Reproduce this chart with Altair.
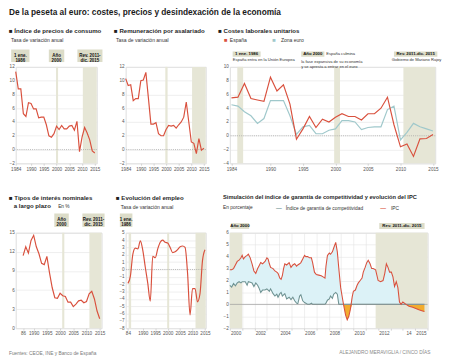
import altair as alt
import pandas as pd

FONT = "Liberation Sans, Arial, sans-serif"
RED = "#d9503d"
TEAL = "#9fc8cb"
IGC_C = "#6f9393"
BAND = "#e6e6d6"
BOX = "#dcdcc8"
GRID = "#e3e3e3"
LBL = "#555555"
BLUEFILL = "#dcf2f7"
ORANGE = "#f2ac2e"

# ---------------- data ----------------
years = list(range(1984, 2016))
ipc_anual = [11.3, 8.8, 8.8, 5.2, 4.8, 6.8, 6.7, 5.9, 5.9, 4.6, 4.7, 4.7, 3.6, 2.0, 1.8, 2.3,
             3.4, 2.9, 3.5, 3.0, 3.0, 3.4, 3.5, 2.8, 4.1, -0.3, 1.8, 3.2, 2.4, 1.4, -0.2, -0.5]
remuneracion = [10.3, 9.3, 9.4, 7.1, 7.4, 7.4, 10.0, 10.1, 11.2, 7.5, 3.7, 3.7, 3.9, 2.3, 2.0, 2.0,
                2.9, 3.5, 3.4, 3.5, 3.1, 3.6, 4.0, 4.7, 6.9, 4.0, 1.1, 0.9, -0.6, 1.6, -0.1, 0.2]
clu_espana = [5.5, 5.6, 7.6, 5.4, 5.2, 5.0, 8.5, 6.5, 7.4, 4.6, -0.5, 1.0, 2.8, 1.2, 2.4, 2.0,
              2.7, 3.2, 2.8, 2.8, 2.3, 3.2, 3.2, 4.0, 5.6, 1.6, -1.6, -1.2, -3.0, -0.45, -0.4, 0.2]
clu_zona_euro = [4.5, 4.3, 3.5, 2.9, 1.8, 2.5, 5.1, 5.1, 5.1, 2.9, 0.2, 1.3, 1.5, 0.3, 0.3, 0.8,
                 1.0, 2.2, 2.2, 2.0, 0.9, 1.2, 1.3, 1.3, 3.8, 4.3, -0.6, 0.5, 1.8, 1.3, 1.0, 0.7]
years_tipos = list(range(1986, 2016))
tipos_interes = [11.4, 12.8, 11.8, 13.8, 14.6, 12.8, 11.7, 10.2, 10.0, 11.3, 8.7, 6.4, 4.8, 4.7, 5.5,
                 5.1, 5.0, 4.1, 4.1, 3.4, 3.8, 4.3, 4.4, 4.0, 4.2, 5.4, 5.8, 4.6, 2.7, 1.5]
empleo = [-1.9, -0.9, 2.1, 2.9, 2.8, 3.9, 2.6, 0.3, -1.9, -4.3, 1.8, 1.6, 2.8, 3.7, 4.0, 3.7,
          3.6, 3.0, 2.3, 2.4, 2.7, 3.1, 3.2, 3.0, -0.5, -6.2, -2.6, -2.6, -4.4, -3.3, 1.2, 2.7]
meses = [2000.00, 2000.15, 2000.30, 2000.45, 2000.60, 2000.75, 2000.90, 2001.00, 2001.10, 2001.25,
         2001.40, 2001.50, 2001.65, 2001.80, 2001.95, 2002.10, 2002.25, 2002.35, 2002.50, 2002.65,
         2002.85, 2003.00, 2003.10, 2003.20, 2003.30, 2003.50, 2003.65, 2003.80, 2003.90, 2004.05,
         2004.15, 2004.25, 2004.35, 2004.45, 2004.60, 2004.80, 2004.95, 2005.10, 2005.25, 2005.40,
         2005.50, 2005.65, 2005.75, 2005.90, 2006.05, 2006.15, 2006.30, 2006.45, 2006.60, 2006.70,
         2006.85, 2007.00, 2007.20, 2007.40, 2007.55, 2007.70, 2007.78, 2007.90, 2008.05, 2008.15,
         2008.30, 2008.40, 2008.57, 2008.70, 2008.82, 2008.97, 2009.10, 2009.20, 2009.37, 2009.50,
         2009.63, 2009.76, 2009.90, 2010.00, 2010.16, 2010.30, 2010.40, 2010.55, 2010.70, 2010.80,
         2010.95, 2011.08, 2011.20, 2011.35, 2011.48, 2011.60, 2011.80, 2012.00, 2012.20, 2012.40,
         2012.54, 2012.67, 2012.80, 2012.93, 2013.07, 2013.20, 2013.33, 2013.47, 2013.60, 2013.73,
         2013.86, 2014.00, 2014.26, 2014.50, 2014.80, 2015.05, 2015.30, 2015.60, 2015.75]
ipc_mensual = [2.9, 2.9, 3.0, 3.3, 3.6, 3.7, 3.9, 4.1, 3.8, 4.0,
               4.1, 4.2, 3.9, 3.4, 2.8, 2.6, 3.0, 3.2, 3.5, 3.4,
               3.6, 3.9, 3.8, 3.4, 3.1, 3.0, 2.8, 2.7, 2.6, 2.2,
               2.1, 2.4, 3.0, 3.4, 3.3, 3.5, 3.1, 3.3, 3.4, 3.2,
               3.3, 3.4, 3.5, 3.8, 4.1, 4.0, 4.0, 3.9, 3.9, 3.5,
               2.7, 2.5, 2.45, 2.4, 2.3, 2.2, 3.2, 4.1, 4.3, 4.2,
               4.4, 4.7, 5.2, 4.4, 3.0, 1.4, 0.6, 0.0, -0.9, -1.3,
               -1.0, -0.4, 0.6, 1.1, 1.2, 1.6, 1.8, 2.0, 2.2, 2.7,
               3.1, 3.5, 3.7, 3.4, 3.0, 3.0, 2.9, 2.0, 1.9, 2.0,
               2.6, 3.4, 3.1, 2.7, 2.7, 2.3, 1.5, 1.9, 1.4, 0.2,
               0.0, 0.2, 0.0, -0.15, -0.25, -0.35, -0.45, -0.55, -0.6]
igc_mensual = [1.6, 1.45, 1.75, 1.55, 1.8, 1.9, 1.8, 1.9, 1.9, 1.9,
               1.6, 1.9, 1.85, 1.8, 1.5, 1.8, 1.6, 1.4, 1.0, 1.2,
               1.2, 1.3, 1.2, 1.1, 1.3, 0.9, 0.7, 0.85, 0.6, 0.9,
               1.0, 0.7, 0.8, 0.9, 0.45, 0.6, 0.4, 0.6, 0.3, 0.1,
               0.05, 0.7, 0.8, 0.3, 0.15, 0.1, 0.0, 0.0, 0.1, 0.0,
               0.0, 0.0, 0.0, 0.0, 0.0, 0.0, 0.1, 0.35, 0.45, 0.7,
               0.5, 0.85, 1.0, 0.85, 0.0, 0.0, 0.0, 0.0, 0.0, 0.0,
               0.0, 0.0, 0.0, 0.0, 0.0, 0.0, 0.0, 0.0, 0.0, 0.0,
               0.0, 0.0, 0.0, 0.0, 0.0, 0.0, 0.0, 0.0, 0.0, 0.0,
               0.0, 0.0, 0.0, 0.0, 0.0, 0.0, 0.0, 0.0, 0.0, 0.0,
               0.0, 0.0, 0.0, 0.0, 0.0, 0.0, 0.0, 0.0, 0.0]

year_ticks = [1984, 1990, 1995, 2000, 2005, 2010, 2015]
tipos_ticks = [1986, 1990, 1995, 2000, 2005, 2010, 2015]
p6_label_years = [2000, 2002, 2004, 2006, 2008, 2010, 2012, 2014, 2015]


# ---------------- helpers ----------------
def xaxis(values, expr=None, grid=False, offset=0):
    kw = dict(values=values, format="d", labelFontSize=4.8, labelColor=LBL, labelFont=FONT,
              grid=grid, gridColor=GRID, gridWidth=0.6, domain=False, ticks=True, tickSize=2,
              tickColor="#bbbbbb", tickWidth=0.6, labelPadding=1, title=None,
              labelFlush=False, labelOverlap=False)
    if expr:
        kw["labelExpr"] = expr
    if offset:
        kw["labelOffset"] = offset
    return alt.Axis(**kw)


def yaxis(values):
    return alt.Axis(values=values, format="d", labelFontSize=4.8, labelColor=LBL, labelFont=FONT,
                    grid=True, gridColor=GRID, gridWidth=0.6, domain=False, ticks=False,
                    labelPadding=1.5, title=None)


def T(text, x, y, size=5.0, bold=False, color="#333333", align="left", baseline="middle"):
    return alt.Chart(pd.DataFrame({"t": [text]})).mark_text(
        align=align, baseline=baseline, fontSize=size,
        fontWeight="bold" if bold else "normal", color=color, font=FONT,
        lineBreak="\n", lineHeight=size * 1.15).encode(
        x=alt.value(x), y=alt.value(y), text="t:N")


class Panel:
    def __init__(self, xdom, ydom, xax, yax):
        self.xs = alt.Scale(domain=xdom, nice=False, zero=False)
        self.ys = alt.Scale(domain=ydom, nice=False, zero=False)
        self.xax = xax
        self.yax = yax

    def X(self, f):
        return alt.X(f, scale=self.xs, axis=self.xax)

    def Y(self, f):
        return alt.Y(f, scale=self.ys, axis=self.yax)

    def bands(self, b0, b1, h):
        return alt.Chart(pd.DataFrame({"b0": b0, "b1": b1})).mark_rect(color=BAND).encode(
            x=self.X("b0:Q"), x2=alt.X2("b1"), y=alt.value(0), y2=alt.value(h))

    def zero(self, dotted=True, color="#999999"):
        kw = dict(color=color, strokeWidth=0.7)
        if dotted:
            kw["strokeDash"] = [1, 1.2]
        return alt.Chart(pd.DataFrame({"z": [0]})).mark_rule(**kw).encode(y=self.Y("z:Q"))

    def line(self, x, y, color=RED, width=1.2, interp="linear"):
        return alt.Chart(pd.DataFrame({"x": x, "y": y})).mark_line(
            color=color, strokeWidth=width, interpolate=interp).encode(
            x=self.X("x:Q"), y=self.Y("y:Q"))

    def ann(self, yr, label, off0, off1, y0, y1, size=4.6):
        d = pd.DataFrame({"yr": [yr], "t": [label]})
        box = alt.Chart(d).mark_rect(color=BOX, xOffset=off0, x2Offset=off1).encode(
            x=self.X("yr:Q"), x2=alt.X2("yr"), y=alt.value(y0), y2=alt.value(y1))
        lab = alt.Chart(d).mark_text(
            fontSize=size, fontWeight="bold", font=FONT, color="#111111", lineBreak="\n",
            lineHeight=size * 1.15, dx=(off0 + off1) / 2, align="center", baseline="middle").encode(
            x=self.X("yr:Q"), y=alt.value((y0 + y1) / 2), text="t:N")
        return [box, lab]


TS = 6.3  # panel title size

# ---------------- panel 1: IPC ----------------
W1, H1 = 84, 100
P1 = Panel([1984, 2015.75], [-2, 12], xaxis(year_ticks), yaxis(list(range(-2, 13, 2))))
p1 = alt.layer(
    P1.bands([1999.8, 2010.3], [2000.6, 2015.75], H1),
    P1.zero(),
    P1.line(years, ipc_anual),
    *P1.ann(1986, "1 ene.\n1986", -10, 9, -18, -5),
    *P1.ann(2000, "Año\n2000", -8, 8, -18, -5),
    *P1.ann(2011, "Rev. 2011-\ndic. 2015", -7.5, 18.5, -18, -5),
    T("De la peseta al euro: costes, precios y desindexación de la economía", -7, -60.5, 8.6, True,
      "#1a1a1a", baseline="top"),
    T("■ Índice de precios de consumo", -7, -37, TS, True, "#1f1f1f"),
    T("Tasa de variación anual", -5, -28, 5.2),
).properties(width=W1, height=H1)

# ---------------- panel 2: remuneración ----------------
W2, H2 = 83, 100
P2 = Panel([1984, 2015.7], [-2, 12], xaxis(year_ticks), yaxis(list(range(-2, 13, 2))))
p2 = alt.layer(
    P2.bands([1999.7, 2010.3], [2000.6, 2015.7], H2),
    P2.zero(),
    P2.line(years, remuneracion),
    T("■ Remuneración por asalariado", -12, -37, TS, True, "#1f1f1f"),
    T("Tasa de variación anual", -10, -28, 5.2),
).properties(width=W2, height=H2)

# ---------------- panel 3: CLU ----------------
W3, H3 = 213, 100
P3 = Panel([1983.75, 2015.35], [-4, 10], xaxis(year_ticks), yaxis(list(range(-4, 11, 2))))
p3 = alt.layer(
    P3.bands([1984.9, 1999.8, 2010.45], [1985.8, 2000.7, 2015.35], H3),
    P3.zero(),
    P3.line(years, clu_zona_euro, color=TEAL),
    P3.line(years, clu_espana, color=RED),
    *P3.ann(1985, "1 ene. 1986", -5.5, 23.5, -16, -10.5, 4.5),
    T("España entra en la Unión Europea", 3, -7.5, 4.2),
    *P3.ann(2000, "Año 2000", -35.5, -11.5, -16, -10.5, 4.5),
    T("España culmina", 100, -13.5, 4.2),
    T("la fase expansiva de su economía\ny se apresta a entrar en el euro", 74, -5, 4.2),
    *P3.ann(2011, "Rev. 2011-dic. 2015", -13.5, 31.5, -16, -10.5, 4.4),
    T("Gobierno de Mariano Rajoy", 168, -7.5, 4.2),
    T("■ Costes laborales unitarios", -12, -37, TS, True, "#1f1f1f"),
    T("■", -6, -28, 6, False, RED),
    T("España", 0, -28, 5.2),
    T("■", 44, -28, 6, False, TEAL),
    T("Zona euro", 53, -28, 5.2),
).properties(width=W3, height=H3)

# ---------------- panel 4: tipos de interés ----------------
W4, H4 = 89, 99
P4 = Panel([1983.2, 2015.7], [0, 15],
           xaxis(tipos_ticks, expr="datum.value == 1986 ? '86' : datum.label"),
           yaxis([0, 3, 6, 9, 12, 15]))
p4 = alt.layer(
    P4.bands([2000.8, 2011.1], [2001.6, 2015.7], H4),
    P4.line(years_tipos, tipos_interes),
    *P4.ann(2000, "Año\n2000", -6, 9, -20, -6),
    *P4.ann(2011, "Rev. 2011-\ndic. 2015", -7, 16, -20, -6),
    T("■ Tipos de interés nominales", -7, -36, TS, True, "#1f1f1f"),
    T("a largo plazo", -2, -28, TS, True, "#1f1f1f"),
    T("En %", 44, -28, 5),
    T("Fuentes: CEOE, INE y Banco de España", -7, 125, 5, False, "#7a7a7a"),
).properties(width=W4, height=H4)

# ---------------- panel 5: empleo ----------------
W5, H5 = 83, 99
P5 = Panel([1983.1, 2015.3], [-8, 5],
           xaxis(year_ticks, expr="datum.value == 1984 ? '84' : datum.label"),
           yaxis(list(range(-8, 6))))
p5 = alt.layer(
    P5.bands([1984.3, 1999.8, 2011.2], [1985.3, 2000.6, 2015.3], H5),
    P5.zero(),
    P5.line(years, empleo, interp="monotone"),
    *P5.ann(1986, "1 ene.\n1986", -13.5, -0.5, -20, -6),
    T("■ Evolución del empleo", -10, -36, TS, True, "#1f1f1f"),
    T("Tasa de variación anual", -5, -27, 5.2),
).properties(width=W5, height=H5)

# ---------------- panel 6: simulación IGC ----------------
W6, H6 = 205, 99
lbl_expr = ("indexof([" + ",".join(str(v) for v in p6_label_years) + "], datum.value) < 0 ? '' : "
            "(datum.value == 2014 ? '14' : datum.label)")
P6 = Panel([2000, 2016], [-2, 6],
           xaxis(list(range(2000, 2017)), expr=lbl_expr, grid=True, offset=6),
           yaxis(list(range(-2, 7))))
df6 = pd.DataFrame({"x": meses, "ipc": ipc_mensual, "igc": igc_mensual})
base6 = alt.Chart(df6).transform_calculate(
    hi="max(datum.ipc, datum.igc)", lo="min(datum.ipc, datum.igc)")
p6 = alt.layer(
    P6.bands([2000, 2011.8], [2001, 2016], H6),
    base6.mark_area(color=BLUEFILL).encode(x=P6.X("x:Q"), y=P6.Y("hi:Q"), y2=alt.Y2("igc")),
    base6.mark_area(color=ORANGE).encode(x=P6.X("x:Q"), y=P6.Y("lo:Q"), y2=alt.Y2("igc")),
    base6.mark_line(color=IGC_C, strokeWidth=1.1).encode(x=P6.X("x:Q"), y=P6.Y("igc:Q")),
    P6.zero(dotted=False, color="#9a9a9a"),
    base6.mark_line(color=RED, strokeWidth=1.1).encode(x=P6.X("x:Q"), y=P6.Y("ipc:Q")),
    *P6.ann(2000, "Año 2000", 1, 20, -10, -4, 4.5),
    *P6.ann(2011, "Rev. 2011-dic. 2015", 14, 61, -10, -4, 4.5),
    T("Simulación del índice de garantía de competitividad y evolución del IPC", -7, -37, 5.9, True, "#1f1f1f"),
    T("En porcentaje", -7, -27, 5),
    T("—", 48, -26, 6, True, IGC_C),
    T("Índice de garantía de competitividad", 58, -26, 5),
    T("—", 156, -26, 6, True, RED),
    T("IPC", 167, -26, 5),
    T("ALEJANDRO MERAVIGLIA / CINCO DÍAS", 208, 124, 5, False, "#8a8a8a", align="right"),
).properties(width=W6, height=H6)

chart = alt.concat(p1, p2, p3, p4, p5, p6, columns=3, align="none", bounds="flush",
                   spacing={"row": 72, "column": 25}).properties(
    padding={"left": 0, "top": -6.5, "right": 0, "bottom": 0}
).configure_view(stroke=None).configure(font=FONT, background="white")

chart.save("out.html", embed_options={"renderer": "svg", "actions": False})
